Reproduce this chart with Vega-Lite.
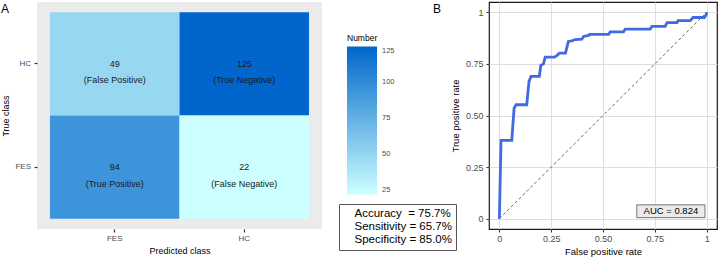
{
  "$schema": "https://vega.github.io/schema/vega-lite/v6.json",
  "padding": {"left": 1, "top": 1, "right": 0, "bottom": 0},
  "background": "white",
  "config": {
    "font": "Liberation Sans",
    "axis": {"labelFont": "Liberation Sans", "titleFont": "Liberation Sans", "titleFontWeight": "normal", "labelColor": "#4d4d4d", "titleColor": "#000000"},
    "legend": {"labelFont": "Liberation Sans", "titleFont": "Liberation Sans"},
    "title": {"font": "Liberation Sans"}
  },
  "bounds": "flush",
  "spacing": 167,
  "resolve": {"scale": {"color": "independent", "shape": "independent"}, "legend": {"color": "independent", "shape": "independent"}},
  "hconcat": [
    {
      "width": 285,
      "height": 227,
      "title": {"text": "A", "anchor": "start", "frame": "group", "orient": "top", "dx": -36, "offset": -14, "fontSize": 12, "fontWeight": "normal", "color": "#000000", "baseline": "top"},
      "view": {"fill": "#ebebeb", "stroke": null},
      "data": {"values": [
        {"pred": "FES", "actual": "HC", "n": 49, "label": "(False Positive)"},
        {"pred": "HC", "actual": "HC", "n": 125, "label": "(True Negative)"},
        {"pred": "FES", "actual": "FES", "n": 94, "label": "(True Positive)"},
        {"pred": "HC", "actual": "FES", "n": 22, "label": "(False Negative)"}
      ]},
      "encoding": {
        "x": {"field": "pred", "type": "nominal", "scale": {"domain": ["FES", "HC"], "paddingInner": 0, "paddingOuter": 0.1},
              "axis": {"title": "Predicted class", "labelAngle": 0, "labelFontSize": 8, "labelColor": "#4d4d4d", "titleFontSize": 9, "tickSize": 3, "tickColor": "#333333", "tickWidth": 1.2, "domain": false, "grid": false, "labelPadding": 2, "titlePadding": 4}},
        "y": {"field": "actual", "type": "nominal", "scale": {"domain": ["HC", "FES"], "paddingInner": 0, "paddingOuter": 0.1},
              "axis": {"title": "True class", "labelFontSize": 8, "labelColor": "#4d4d4d", "titleFontSize": 9, "tickSize": 3, "tickColor": "#333333", "tickWidth": 1.2, "domain": false, "grid": false, "labelPadding": 3.5, "titlePadding": 4.5}}
      },
      "layer": [
        {
          "mark": {"type": "rect"},
          "encoding": {
            "color": {"field": "n", "type": "quantitative",
              "scale": {"domain": [22, 125], "range": ["#ccffff", "#0066cc"], "interpolate": "rgb"},
              "legend": {"orient": "none", "legendX": 310, "legendY": 32, "title": "Number", "titleFontSize": 8.5, "titleFontWeight": "normal", "titleColor": "#000000", "titlePadding": 4, "gradientLength": 148, "gradientThickness": 30, "gradientStrokeWidth": 0, "labelFontSize": 7.5, "labelColor": "#4d4d4d", "labelOffset": 5, "values": [25, 50, 75, 100, 125], "direction": "vertical", "padding": 0}}
          }
        },
        {
          "mark": {"type": "text", "fontSize": 9, "color": "#1a1a1a", "baseline": "middle"},
          "encoding": {"text": {"field": "n", "type": "quantitative"}}
        },
        {
          "mark": {"type": "text", "fontSize": 9, "color": "#1a1a1a", "baseline": "middle", "dy": 16.5},
          "encoding": {"text": {"field": "label", "type": "nominal"}}
        },
        {
          "data": {"values": [
            {"stat": "Accuracy\u00a0\u00a0= 75.7%"},
            {"stat": "Sensitivity = 65.7%"},
            {"stat": "Specificity = 85.0%"}
          ]},
          "mark": {"type": "point", "size": 0, "opacity": 0},
          "encoding": {
            "x": null, "y": null,
            "shape": {"field": "stat", "type": "nominal",
              "legend": {"orient": "none", "legendX": 302, "legendY": 202, "title": null, "strokeColor": "#555555", "fillColor": "white", "padding": 4, "symbolSize": 0, "symbolOpacity": 0, "symbolStrokeWidth": 0, "labelOffset": 0, "labelFontSize": 11.5, "labelColor": "#000000", "labelLimit": 0, "rowPadding": 0}}
          }
        }
      ]
    },
    {
      "width": 228,
      "height": 227,
      "title": {"text": "B", "anchor": "start", "frame": "group", "orient": "top", "dx": -56, "offset": -14, "fontSize": 12, "fontWeight": "normal", "color": "#000000", "baseline": "top"},
      "view": {"fill": "white", "stroke": "#1a1a1a", "strokeWidth": 1.2},
      "layer": [
        {
          "data": {"values": [{"fpr": 0, "tpr": 0}, {"fpr": 1, "tpr": 1}]},
          "mark": {"type": "line", "strokeDash": [3, 2.5], "color": "#666666", "strokeWidth": 1},
          "encoding": {
            "x": {"field": "fpr", "type": "quantitative", "scale": {"domain": [-0.05, 1.05], "nice": false, "zero": false},
                  "axis": {"title": "False positive rate", "values": [0, 0.125, 0.25, 0.375, 0.5, 0.625, 0.75, 0.875, 1],
                           "labelExpr": "datum.value * 4 % 1 != 0 ? '' : (datum.value == 0 ? '0' : datum.value == 1 ? '1' : format(datum.value, '.2f'))",
                           "gridColor": {"condition": {"test": "datum.value * 4 % 1 != 0", "value": "#f0f0f0"}, "value": "#dedede"},
                           "tickColor": {"condition": {"test": "datum.value * 4 % 1 != 0", "value": "transparent"}, "value": "#333333"},
                           "tickSize": 3, "domain": false, "labelFontSize": 9, "titleFontSize": 9.5, "labelPadding": 2, "titlePadding": 3, "labelFlush": false, "labelOverlap": false}},
            "y": {"field": "tpr", "type": "quantitative", "scale": {"domain": [-0.05, 1.05], "nice": false, "zero": false},
                  "axis": {"title": "True positive rate", "values": [0, 0.125, 0.25, 0.375, 0.5, 0.625, 0.75, 0.875, 1],
                           "labelExpr": "datum.value * 4 % 1 != 0 ? '' : (datum.value == 0 ? '0' : datum.value == 1 ? '1' : format(datum.value, '.2f'))",
                           "gridColor": {"condition": {"test": "datum.value * 4 % 1 != 0", "value": "#f0f0f0"}, "value": "#dedede"},
                           "tickColor": {"condition": {"test": "datum.value * 4 % 1 != 0", "value": "transparent"}, "value": "#333333"},
                           "tickSize": 3, "domain": false, "labelFontSize": 9, "titleFontSize": 9.5, "labelPadding": 3, "titlePadding": 5, "labelFlush": false, "labelOverlap": false}}
          }
        },
        {
          "data": {"values": [
            {"fpr": 0, "tpr": 0}, {"fpr": 0.008, "tpr": 0.379}, {"fpr": 0.06, "tpr": 0.379},
            {"fpr": 0.071, "tpr": 0.535}, {"fpr": 0.081, "tpr": 0.552}, {"fpr": 0.132, "tpr": 0.552},
            {"fpr": 0.143, "tpr": 0.665}, {"fpr": 0.153, "tpr": 0.69}, {"fpr": 0.193, "tpr": 0.69},
            {"fpr": 0.2, "tpr": 0.743}, {"fpr": 0.213, "tpr": 0.75}, {"fpr": 0.221, "tpr": 0.783},
            {"fpr": 0.266, "tpr": 0.783}, {"fpr": 0.277, "tpr": 0.79}, {"fpr": 0.29, "tpr": 0.802},
            {"fpr": 0.319, "tpr": 0.802}, {"fpr": 0.333, "tpr": 0.859}, {"fpr": 0.35, "tpr": 0.862},
            {"fpr": 0.365, "tpr": 0.868}, {"fpr": 0.398, "tpr": 0.87}, {"fpr": 0.406, "tpr": 0.883},
            {"fpr": 0.43, "tpr": 0.888}, {"fpr": 0.436, "tpr": 0.893}, {"fpr": 0.527, "tpr": 0.893},
            {"fpr": 0.535, "tpr": 0.905}, {"fpr": 0.599, "tpr": 0.905}, {"fpr": 0.607, "tpr": 0.919},
            {"fpr": 0.728, "tpr": 0.919}, {"fpr": 0.736, "tpr": 0.932}, {"fpr": 0.8, "tpr": 0.932},
            {"fpr": 0.809, "tpr": 0.95}, {"fpr": 0.857, "tpr": 0.95}, {"fpr": 0.862, "tpr": 0.96},
            {"fpr": 0.921, "tpr": 0.96}, {"fpr": 0.934, "tpr": 0.975}, {"fpr": 0.989, "tpr": 0.975},
            {"fpr": 0.998, "tpr": 0.988}, {"fpr": 1, "tpr": 1}
          ]},
          "mark": {"type": "line", "color": "#4169e1", "strokeWidth": 2.8},
          "encoding": {
            "x": {"field": "fpr", "type": "quantitative"},
            "y": {"field": "tpr", "type": "quantitative"}
          }
        },
        {
          "data": {"values": [{"label": "AUC = 0.824"}]},
          "mark": {"type": "rect", "fill": "#ebebeb", "stroke": "#555555", "strokeWidth": 0.8},
          "encoding": {
            "x": {"datum": 0.663, "type": "quantitative"}, "x2": {"datum": 0.992},
            "y": {"datum": 0.005, "type": "quantitative"}, "y2": {"datum": 0.067}
          }
        },
        {
          "data": {"values": [{"label": "AUC = 0.824"}]},
          "mark": {"type": "text", "fontSize": 9.5, "color": "#000000", "baseline": "middle"},
          "encoding": {
            "x": {"datum": 0.8275, "type": "quantitative"},
            "y": {"datum": 0.036, "type": "quantitative"},
            "text": {"field": "label", "type": "nominal"}
          }
        }
      ]
    }
  ]
}
